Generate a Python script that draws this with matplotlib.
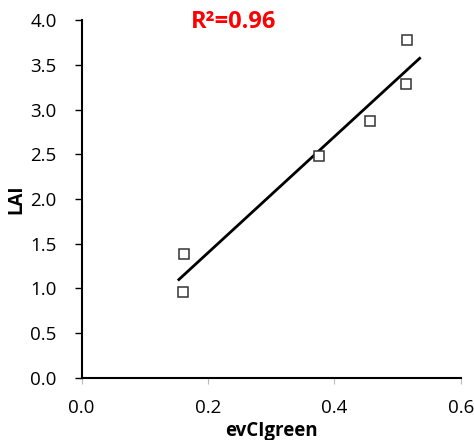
import matplotlib
matplotlib.use("Agg")
import matplotlib.pyplot as plt
import numpy as np

# evCIgreen vs LAI
evci = [0.160, 0.162, 0.375, 0.456, 0.513, 0.515]
lai = [0.96, 1.385, 2.48, 2.87, 3.28, 3.78]
fit_range = [0.154, 0.535]
r2_label = "R²=0.96"

plt.rcParams["font.family"] = ["Open Sans", "DejaVu Sans"]

fig = plt.figure(figsize=(4.74, 4.4), dpi=100)
ax = fig.add_axes([0.172, 0.141, 0.8, 0.8135])

ax.plot(evci, lai, "s", mfc="white", mec="#333333", ms=7, mew=1.1, zorder=3)

slope, icpt = np.polyfit(evci, lai, 1)
xs = np.array(fit_range)
ax.plot(xs, slope * xs + icpt, color="black", lw=2, zorder=2)

ax.set_xlim(0, 0.6)
ax.set_ylim(0, 4.0)
ax.set_xticks([0.0, 0.2, 0.4, 0.6])
ax.set_yticks(np.arange(0, 4.01, 0.5))
ax.xaxis.set_major_formatter(matplotlib.ticker.FormatStrFormatter("%.1f"))
ax.yaxis.set_major_formatter(matplotlib.ticker.FormatStrFormatter("%.1f"))

for s in ["top", "right"]:
    ax.spines[s].set_visible(False)
for s in ["left", "bottom"]:
    ax.spines[s].set_linewidth(1.5)

ax.tick_params(axis="y", direction="out", length=5, width=1, labelsize=13.5, pad=13)
ax.tick_params(axis="x", direction="out", length=4, width=0.8, color="#bbbbbb",
               labelsize=13.5, pad=11)

ax.set_xlabel("evCIgreen", fontsize=13.5, fontweight="bold", labelpad=3)
ax.set_ylabel("LAI", fontsize=13.5, fontweight="bold", labelpad=3)

ax.text(0.24, 3.98, r2_label, color="red", fontsize=17, fontweight="bold",
        ha="center", va="center")

fig.savefig("out.png", dpi=100)
